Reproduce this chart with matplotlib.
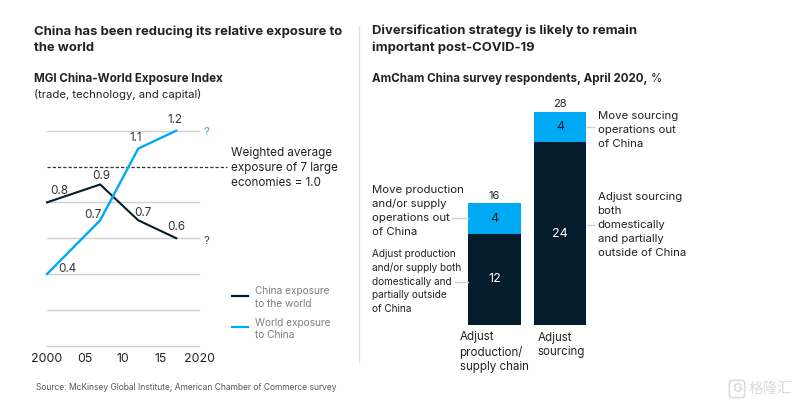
import matplotlib
matplotlib.use("Agg")
import matplotlib.pyplot as plt
from matplotlib.lines import Line2D

plt.rcParams['font.family'] = ['Inter', 'DejaVu Sans']

W, H = 802, 405
DARK = '#051c2c'
BLUE = '#00a9f4'
GRID = '#d0d0d0'
TXT = '#222222'
GREY = '#7f7f7f'

years_china = [2000, 2007, 2012, 2017]
china_world = [0.8, 0.9, 0.7, 0.6]
years_world = [2000, 2007, 2012, 2017]
world_china = [0.4, 0.7, 1.1, 1.2]
grid_values = [0, 0.2, 0.4, 0.6, 0.8, 1.2]
reference_value = 1.0
year_ticks = [2000, 2005, 2010, 2015, 2020]
year_labels = ['2000', '05', '10', '15', '2020']

bar_categories = ['Adjust\nproduction/\nsupply chain', 'Adjust\nsourcing']
bar_domestic = [12, 24]
bar_out = [4, 4]
bar_totals = [16, 28]

fig = plt.figure(figsize=(W / 100, H / 100), dpi=100, facecolor='white')


def rect(x0, y0, x1, y1):
    return [x0 / W, 1 - y1 / H, (x1 - x0) / W, (y1 - y0) / H]


def t(x, y, s, size=8.4, color=TXT, weight='normal', ha='left', va='center', ls=1.35, **kw):
    return fig.text(x / W, 1 - y / H, s, fontsize=size, color=color, weight=weight,
                    ha=ha, va=va, linespacing=ls, **kw)


def seg(x0, y0, x1, y1, **kw):
    fig.add_artist(Line2D([x0 / W, x1 / W], [1 - y0 / H, 1 - y1 / H], **kw))


# Left chart
ax = fig.add_axes(rect(47, 130.7, 199, 345.7))
ax.set_xlim(2000, 2020)
ax.set_ylim(0, 1.2)
ax.patch.set_alpha(0)
for s in ax.spines.values():
    s.set_visible(False)
for v in grid_values:
    ax.axhline(v, color=GRID, lw=1.0, zorder=1, clip_on=False)
ax.plot([2000, 2023.7], [reference_value] * 2, color='#333333', lw=0.9,
        ls=(0, (2.6, 1.6)), clip_on=False, zorder=2)
ax.plot(years_china, china_world, color=DARK, lw=1.5, zorder=3, clip_on=False,
        solid_joinstyle='miter')
ax.plot(years_world, world_china, color=BLUE, lw=1.7, zorder=4, clip_on=False,
        solid_joinstyle='miter')
ax.set_yticks([])
ax.set_xticks(year_ticks, year_labels)
ax.tick_params(axis='x', length=0, pad=5, labelsize=8.9, labelcolor=TXT)

for x, y, s in [(59, 191, '0.8'), (101, 176, '0.9'), (143, 213, '0.7'), (176, 227, '0.6'),
                (93, 215, '0.7'), (67, 269, '0.4'), (136, 138, '1.1'), (175, 120, '1.2')]:
    t(x, y, s, ha='center', size=8.4, color='#333333')
t(206, 132, '?', color='#45a6d8', ha='center', size=8.2)
t(206, 241.5, '?', color='#444444', ha='center', size=8.2)
t(231, 168, 'Weighted average\nexposure of 7 large\neconomies = 1.0', size=8.4, ls=1.3)

seg(232, 295.7, 248, 295.7, color=DARK, lw=1.6)
seg(232, 326.7, 248, 326.7, color=BLUE, lw=1.6)
t(254.5, 297.5, 'China exposure\nto the world', color=GREY, size=7.3, ls=1.28)
t(254.5, 329, 'World exposure\nto China', color=GREY, size=7.3, ls=1.28)

# Titles
t(34, 39.5, 'China has been reducing its relative exposure to\nthe world', weight='bold', size=9.4, ls=1.45)
t(372, 39.5, 'Diversification strategy is likely to remain\nimportant post-COVID-19', weight='bold', size=9.4, ls=1.45)
t(34, 79, 'MGI China-World Exposure Index', weight='bold', size=8.35)
t(34, 95, '(trade, technology, and capital)', size=8.15)
amcham = t(372, 79, 'AmCham China survey respondents, April 2020,', weight='bold', size=8.35)
fig.canvas.draw()
bb = amcham.get_window_extent()
t(bb.x1 + 3, 79, '%', size=8.35)
t(36, 388, 'Source: McKinsey Global Institute; American Chamber of Commerce survey', size=6.1, color='#555555')

seg(359, 26, 359, 362, color='#e2e2e2', lw=0.9)

# Right chart
ax2 = fig.add_axes(rect(468, 112, 586, 325))
ax2.set_xlim(468, 586)
ax2.set_ylim(0, 28)
ax2.axis('off')
centers = [494.5, 560]
widths = [53, 52]
ax2.bar(centers, bar_domestic, width=widths, color=DARK, zorder=2)
ax2.bar(centers, bar_out, width=widths, bottom=bar_domestic, color=BLUE, zorder=2)
for c, d, o, tot in zip(centers, bar_domestic, bar_out, bar_totals):
    ax2.text(c, d / 2, str(d), color='white', ha='center', va='center', fontsize=9)
    ax2.text(c, d + o / 2, str(o), color=DARK, ha='center', va='center', fontsize=9)
    ax2.text(c, tot + 1.0, str(tot), color=TXT, ha='center', va='center', fontsize=8, clip_on=False)

t(459.5, 352, bar_categories[0], size=8.3, ls=1.3)
t(537.5, 345, bar_categories[1], size=8.3, ls=1.3)

t(372.5, 211, 'Move production\nand/or supply\noperations out\nof China', size=8.2, ls=1.5)
t(372.5, 281.5, 'Adjust production\nand/or supply both\ndomestically and\npartially outside\nof China', size=7.2, ls=1.44)
t(597.5, 130, 'Move sourcing\noperations out\nof China', size=8.2, ls=1.5)
t(597.5, 225, 'Adjust sourcing\nboth\ndomestically\nand partially\noutside of China', size=8.2, ls=1.5)

seg(452, 217.5, 468, 217.5, color=GRID, lw=1)
seg(455, 282, 468, 282, color=GRID, lw=1)
seg(587, 127, 594, 127, color=GRID, lw=1)
seg(587, 225, 594, 225, color=GRID, lw=1)

# Watermark
t(771, 389, '格隆汇', size=10.5, color='#dcdcdc', ha='center', family=['Noto Sans CJK SC', 'DejaVu Sans'])
t(737, 389, 'G', size=9.5, color='#dcdcdc', ha='center', weight='bold',
  bbox=dict(boxstyle='round,pad=0.2', fc='none', ec='#dcdcdc', lw=1.2))

fig.savefig('out.png', dpi=100, facecolor='white')
